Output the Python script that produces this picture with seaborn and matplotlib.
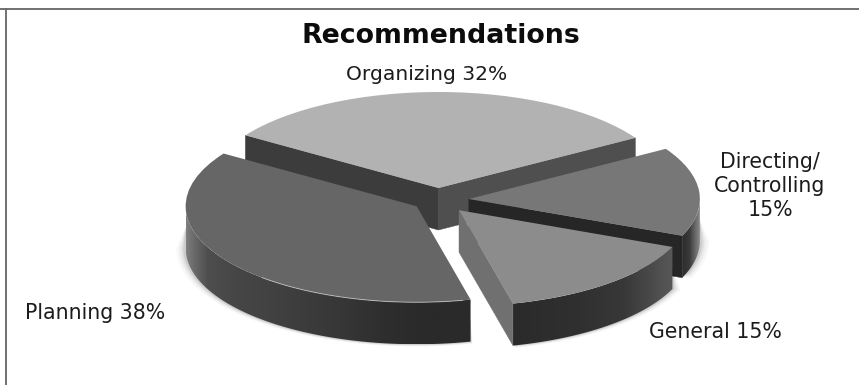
import numpy as np
import matplotlib
matplotlib.use("Agg")
import matplotlib.pyplot as plt
from matplotlib.colors import LinearSegmentedColormap
from matplotlib.lines import Line2D
from matplotlib.patches import Polygon
import seaborn as sns

# Shares of the recommendations, in percent
categories = ["Organizing", "Planning", "General", "Directing/Controlling"]
shares = [32, 38, 15, 15]
explode = [0.125, 0.113, 0.14, 0.134]
label_texts = ["Organizing 32%", "Planning 38%", "General 15%", "Directing/\nControlling\n15%"]

top_shades = ["#b2b2b2", "#666666", "#8c8c8c", "#777777"]
# Cut faces of each slice: (face at the start angle, face at the end angle)
cut_shades = {
    "Organizing": ("#4f4f4f", "#3c3c3c"),
    "Planning": (None, None),
    "General": ("#707070", None),
    "Directing/Controlling": ("#262626", None),
}
# Horizontal shading of the outer rim, left to right
rim_shades = {
    "Organizing": ["#3c3c3c", "#4f4f4f"],
    "Planning": ["#808080", "#4e4e4e", "#464646", "#424242", "#3c3c3c", "#363636", "#2e2e2e", "#2a2a2a",
                 "#2a2a2a"],
    "General": ["#2a2a2a", "#2d2d2d", "#303030", "#383838", "#585858"],
    "Directing/Controlling": ["#2a2a2a", "#3a3a3a", "#8a8a8a"],
}

W, H = 859, 385
PX_X, PX_Y = 231.0, 96.0      # pixels per pie radius along each screen axis
CX, CY = 438.0, 200.0         # pixel position of the undisplaced pie centre
DEPTH = 42.0 / PX_Y           # slab thickness in data units

sns.set_theme(style="white")
plt.rcParams["font.family"] = ["DejaVu Sans"]

fig = plt.figure(figsize=(W / 100, H / 100), dpi=100, facecolor="white")
ax = fig.add_axes([0, 0, 1, 1])
limits = ((0 - CX) / PX_X, (W - CX) / PX_X), ((CY - H) / PX_Y, CY / PX_Y)

palette = sns.color_palette(top_shades)
wedges, _ = ax.pie(shares, explode=explode, colors=palette, startangle=31.5,
                   counterclock=True, radius=1.0, frame=True)


def arc(wedge, t0, t1, n=120):
    t = np.radians(np.linspace(t0, t1, n))
    cx, cy = wedge.center
    return np.column_stack([cx + wedge.r * np.cos(t), cy + wedge.r * np.sin(t)])


def rim_range(wedge):
    # Part of the arc that faces the viewer
    t0 = max(wedge.theta1, 180)
    t1 = min(wedge.theta2, 360)
    return t0, t1


def soft_shadow(wedge, z):
    # Faint halo just outside the near rim of the slab
    t0, t1 = rim_range(wedge)
    if t1 <= t0:
        return
    cx, cy = wedge.center
    t = np.radians(np.linspace(t0, t1, 120))
    for grow, alpha in zip([0.04, 0.028, 0.018, 0.01], [0.03, 0.045, 0.06, 0.08]):
        ring = np.column_stack([cx + (1 + grow) * np.cos(t), cy - DEPTH + (1 + grow * 0.6) * np.sin(t)])
        inner = np.column_stack([cx + np.cos(t), cy - 0.5 * DEPTH + np.sin(t)])
        ax.add_patch(Polygon(np.vstack([ring, inner[::-1]]), closed=True, fc="#000000",
                             ec="none", alpha=alpha, zorder=z))


def draw_slab(name, wedge, z):
    wedge.set_zorder(z + 0.5)
    wedge.set_edgecolor("none")
    soft_shadow(wedge, z - 0.4)

    t0, t1 = rim_range(wedge)
    if t1 > t0:
        top = arc(wedge, t0, t1)
        poly = Polygon(np.vstack([top, (top - [0, DEPTH])[::-1]]), closed=True,
                       fc="none", ec="none", transform=ax.transData)
        ax.add_patch(poly)
        cmap = LinearSegmentedColormap.from_list(name, rim_shades[name])
        grad = np.linspace(0, 1, 256).reshape(1, -1) ** 0.8
        im = ax.imshow(grad, cmap=cmap, aspect="auto", zorder=z,
                       extent=(top[:, 0].min(), top[:, 0].max(),
                               top[:, 1].min() - DEPTH, top[:, 1].max()))
        im.set_clip_path(poly)

    # Flat faces exposed by the cuts
    start, end = cut_shades[name]
    for shade, theta in ((start, wedge.theta1), (end, wedge.theta2)):
        if shade is None:
            continue
        edge = arc(wedge, theta, theta, 1)[0]
        apex = np.array(wedge.center)
        face = [apex, edge, edge - [0, DEPTH], apex - [0, DEPTH]]
        ax.add_patch(Polygon(face, closed=True, fc=shade, ec=shade, lw=0.3, zorder=z + 0.2))


# Painter's order: far slices first
by_name = dict(zip(categories, wedges))
for z, name in enumerate(["Organizing", "Directing/Controlling", "Planning", "General"], start=2):
    draw_slab(name, by_name[name], z * 2)

# Thin bevel highlight along the near edge of the largest slice
planning = by_name["Planning"]
bevel = arc(planning, 228, planning.theta2 - 2)
ax.plot(bevel[:, 0], bevel[:, 1], color="#c8c8c8", lw=0.7, alpha=0.75, zorder=12)

ax.set_aspect("auto")
ax.set_xlim(*limits[0])
ax.set_ylim(*limits[1])
ax.axis("off")


def put(x, y, s, color="#1c1c1c", **kw):
    # Text placed in figure pixels, measured from the top-left corner
    fig.text(x / W, 1 - y / H, s, ha="center", va="center", color=color, **kw)


put(441, 36, "Recommendations", color="#0c0c0c", fontsize=19.3, fontweight="bold")
put(427, 75, label_texts[0], fontsize=14.6)
put(95, 313, label_texts[1], fontsize=14.8)
put(715, 332, label_texts[2], fontsize=14.8)
put(770, 186, label_texts[3], fontsize=14.8, linespacing=1.28)

# Chart frame: only the top and left rules are present
for xs, ys in (((0, W), (8.5, 8.5)), ((6, 6), (8.5, H))):
    fig.add_artist(Line2D([x / W for x in xs], [1 - y / H for y in ys], transform=fig.transFigure,
                          color="#666666", lw=1.3))

fig.savefig("out.png", dpi=100)
